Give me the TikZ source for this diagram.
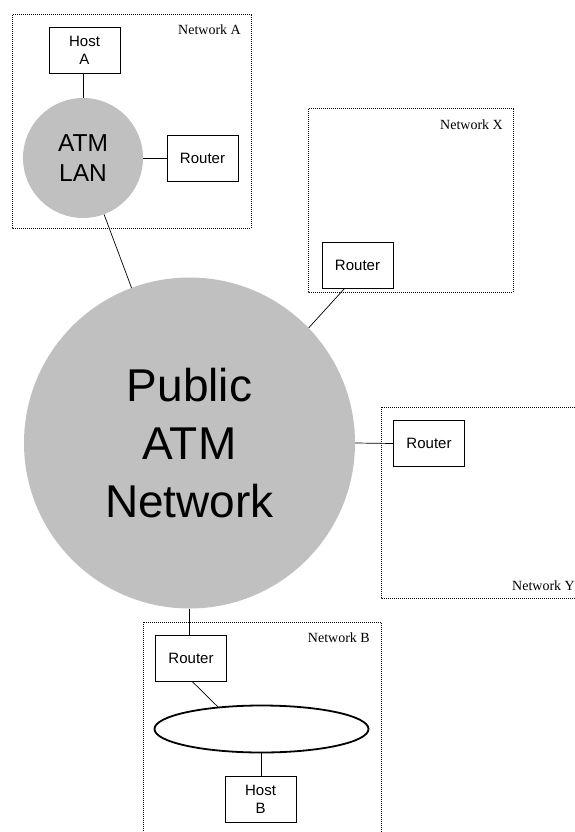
\documentclass[tikz,border=0pt]{standalone}
\usepackage{fontspec}
\setmainfont{Liberation Sans}
\newfontfamily\netlabelfont{Liberation Serif}
\usetikzlibrary{shapes.geometric}
\definecolor{cloudgray}{HTML}{C0C0C0}
\tikzset{
  netbox/.style={draw, line width=1pt, dash pattern=on 1pt off 1pt},
  netname/.style={font=\netlabelfont\fontsize{14}{16}\selectfont, inner sep=0pt, anchor=base east},
  devbox/.style={draw, line width=0.8pt, minimum width=71pt, minimum height=46pt, inner sep=0pt, align=center,
                 font=\fontsize{15}{18}\selectfont},
  cloud/.style={circle, fill=cloudgray, inner sep=0pt, align=center},
  link/.style={line width=0.7pt},
}
\begin{document}
\begin{tikzpicture}[x=1pt, y=-1pt]
\useasboundingbox (0,0) rectangle (575,832);
\clip (0,0) rectangle (575,832);

% network enclosures
\draw[netbox] (12,15) rectangle (251,228);
\draw[netbox] (308,109) rectangle (513,292);
\draw[netbox] (381,407) rectangle (590,598);
\draw[netbox] (143,622) rectangle (381,845);

\node[netname] (lblA) at (241,35) {Network A};
\node[netname] (lblX) at (503,129) {Network X};
\node[netname] (lblY) at (575,590) {Network Y};
\node[netname] (lblB) at (370,642) {Network B};

% clouds
\node[cloud, minimum size=120pt, font=\fontsize{24.5}{30}\selectfont] (atm) at (83,158) {ATM\\LAN};
\node[cloud, minimum size=331pt, font=\fontsize{46}{58}\selectfont] (pub) at (189.5,443) {Public\\ATM\\Network};

% devices
\node[devbox] (hostA) at (84.5,50.5) {Host\\A};
\node[devbox] (rA) at (202.5,158) {Router};
\node[devbox] (rX) at (357.5,265) {Router};
\node[devbox] (rY) at (429,443.5) {Router};
\node[devbox] (rB) at (191,658) {Router};
\node[draw, ellipse, line width=1.8pt, minimum width=214pt, minimum height=47pt, inner sep=0pt] (lan) at (261.5,729) {};
\node[devbox] (hostB) at (260.5,799.5) {Host\\B};

% links
\draw[link] (atm.north) -- (atm.north |- hostA.south);
\draw[link] (atm) -- (rA);
\draw[link] (atm) -- (pub);
\draw[link] ([xshift=23pt]rX.south west) -- (pub.44.6);
\draw[link] (pub.east) -- (rY.west);
\draw[link] (pub.south) -- (pub.south |- rB.north);
\draw[link] ([xshift=37pt]rB.south west) -- (lan.153);
\draw[link] (lan.south) -- (lan.south |- hostB.north);
\end{tikzpicture}
\end{document}
